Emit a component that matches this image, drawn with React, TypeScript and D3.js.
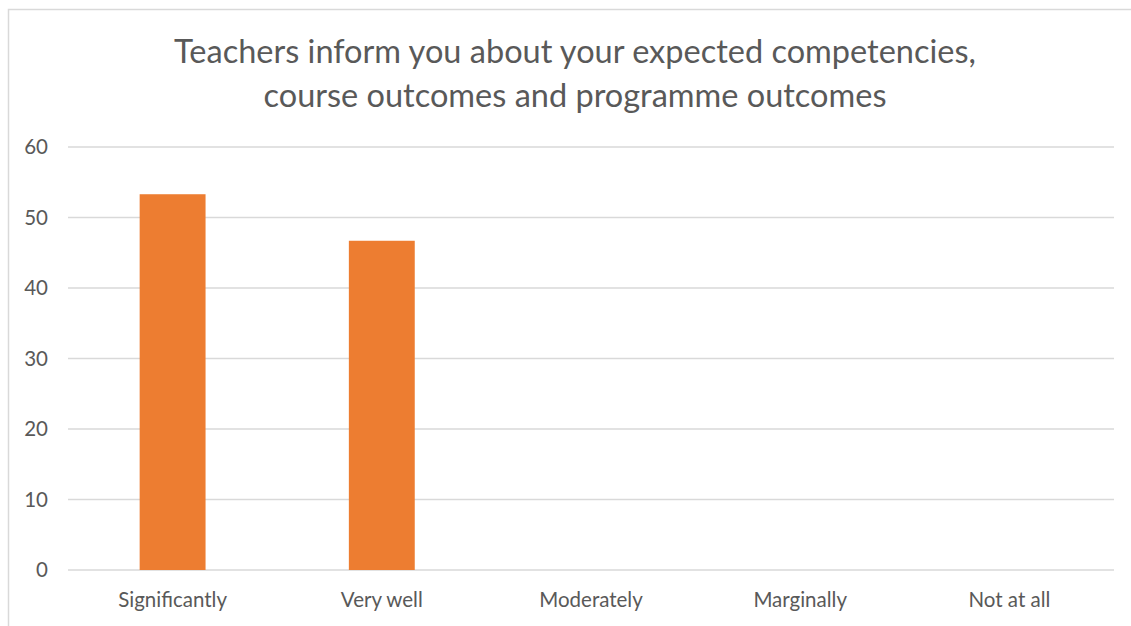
import React from 'react';
import { scaleBand, scaleLinear } from 'd3';

const categories = ['Significantly', 'Very well', 'Moderately', 'Marginally', 'Not at all'];
const values = [53.3, 46.7, 0, 0, 0];
const yTicks = [0, 10, 20, 30, 40, 50, 60];
const titleLines = [
  'Teachers inform you about your expected competencies,',
  'course outcomes and programme outcomes',
];

const W = 1131;
const H = 626;
const left = 68;
const right = 1114;
const top = 147;
const bottom = 570;
const font = 'Lato, "Open Sans", sans-serif';
const textColor = '#595959';

const App = () => {
  const x = scaleBand<string>()
    .domain(categories)
    .range([left, right])
    .paddingInner(0.685)
    .paddingOuter(0.3425);

  const y = scaleLinear().domain([0, 60]).range([bottom, top]);

  return (
    <svg
      width={W}
      height={H}
      style={{ position: 'absolute', left: 0, top: 0, background: '#fff' }}
    >
      {/* chart border */}
      <rect x={8.5} y={9.5} width={W + 10} height={H + 10} fill="#fff" stroke="#d9d9d9" strokeWidth={1.5} />

      {titleLines.map((t, i) => (
        <text
          key={i}
          x={575}
          y={63 + i * 44}
          textAnchor="middle"
          fontFamily={font}
          fontSize={32.5}
          fill={textColor}
        >
          {t}
        </text>
      ))}

      {yTicks.map(t => (
        <g key={t}>
          <line x1={left} x2={right} y1={y(t)} y2={y(t)} stroke="#d9d9d9" strokeWidth={1.5} />
          <text
            x={48}
            y={y(t)}
            dy="0.35em"
            textAnchor="end"
            fontFamily={font}
            fontSize={20.5}
            fill={textColor}
          >
            {t}
          </text>
        </g>
      ))}

      {categories.map((c, i) => (
        <rect
          key={c}
          x={x(c)}
          y={y(values[i])}
          width={x.bandwidth()}
          height={y(0) - y(values[i])}
          fill="#ed7d31"
        />
      ))}

      {categories.map(c => (
        <text
          key={c}
          x={(x(c) ?? 0) + x.bandwidth() / 2}
          y={607}
          textAnchor="middle"
          fontFamily={font}
          fontSize={20.5}
          fill={textColor}
        >
          {c}
        </text>
      ))}
    </svg>
  );
};

export default App;
